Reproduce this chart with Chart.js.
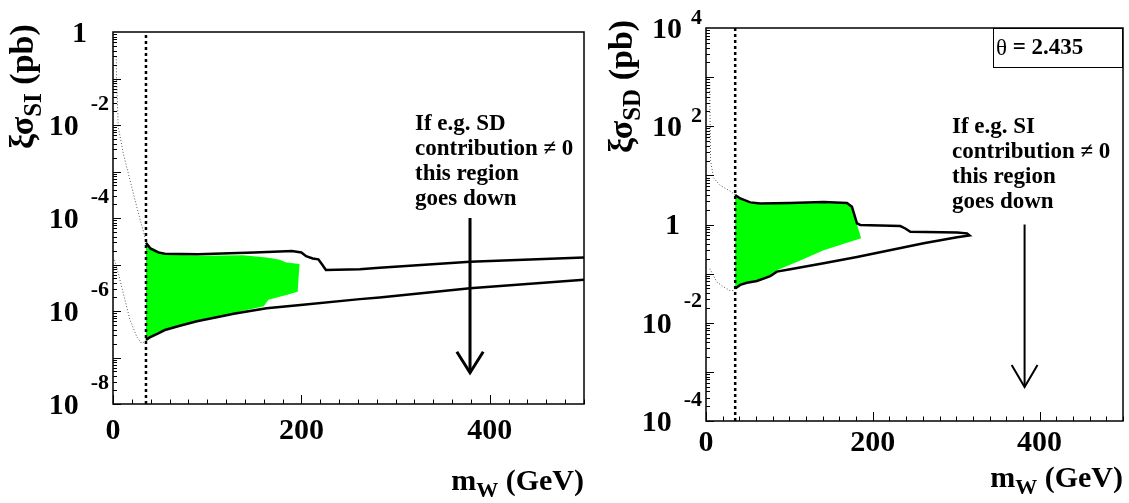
<!DOCTYPE html>
<html>
<head>
<meta charset="utf-8">
<script src="https://cdn.jsdelivr.net/npm/chart.js@4.4.1/dist/chart.umd.min.js"></script>
<style>
  html, body { margin: 0; padding: 0; background: #fff; }
  #wrap { position: relative; width: 1129px; height: 503px; }
  canvas { position: absolute; top: 0; }
  #siChart { left: 0; }
  #sdChart { left: 595px; }
</style>
</head>
<body>
<div id="wrap">
  <canvas id="siChart" width="595" height="503"></canvas>
  <canvas id="sdChart" width="534" height="503"></canvas>
</div>
<script>
// ---- shared ----
const cutMass = 35;             // vertical dotted line (GeV)
const xTickLabels = [0, 200, 400];

// ---- left panel: spin-independent ----
const siUpperX = [35, 40, 48, 55, 90, 150, 190, 200, 205, 212, 218, 222, 226, 262, 283, 379, 500];
const siUpperY = [2.95e-5, 2.19e-5, 1.82e-5, 1.70e-5, 1.66e-5, 1.82e-5, 1.95e-5, 1.82e-5, 1.51e-5,
                  1.35e-5, 1.29e-5, 1.0e-5, 7.6e-6, 7.9e-6, 8.5e-6, 1.15e-5, 1.41e-5];
const siLowerX = [35, 39, 48, 55, 71, 89, 114, 128, 163, 199, 262, 283, 379, 500];
const siLowerY = [2.4e-7, 2.7e-7, 3.3e-7, 3.9e-7, 4.8e-7, 6.0e-7, 7.6e-7, 8.7e-7, 1.15e-6, 1.35e-6,
                  1.8e-6, 1.95e-6, 3.1e-6, 4.7e-6];
const siGreenX = [35, 43, 54, 92, 138, 163, 177, 184, 198, 196, 184, 170, 165, 160, 128, 114, 89, 71, 55, 48, 39, 35];
const siGreenY = [2.6e-5, 2.24e-5, 1.66e-5, 1.55e-5, 1.58e-5, 1.41e-5, 1.26e-5, 1.10e-5, 1.02e-5, 2.6e-6,
                  2.2e-6, 1.86e-6, 1.74e-6, 1.26e-6, 9.1e-7, 7.9e-7, 6.3e-7, 5.0e-7, 4.1e-7, 3.5e-7, 2.8e-7, 2.5e-7];
const siDotUpX = [3.5, 3.8, 4.6, 5.6, 10.9, 18, 25.2, 35];
const siDotUpY = [0.3, 0.1, 0.035, 9.1e-3, 2.45e-3, 6.6e-4, 1.74e-4, 3.2e-5];
const siDotLowX = [1.5, 5.6, 10.9, 18, 25.2, 30.5, 35];
const siDotLowY = [1.26e-5, 6.5e-6, 2.4e-6, 6.5e-7, 2.8e-7, 2.0e-7, 2.3e-7];
const siArrowX = [379, 379];
const siArrowY = [1e-4, 4.7e-8];
const siHeadX = [365, 379, 393];
const siHeadY = [1.33e-7, 4.7e-8, 1.33e-7];
const siNote = ['If e.g. SD', 'contribution \u2260 0', 'this region', 'goes down'];

// ---- right panel: spin-dependent ----
const sdUpperX = [35, 41, 53, 65, 101, 141, 169, 175, 181, 185, 233, 239, 245, 301, 313, 316];
const sdUpperY = [3.98, 3.39, 2.82, 2.69, 2.75, 2.88, 2.75, 2.29, 1.05, 0.98, 0.93, 0.83, 0.71, 0.69, 0.66, 0.60];
const sdLowerX = [35, 41, 49, 61, 77, 85, 101, 141, 181, 261, 301, 316];
const sdLowerY = [0.050, 0.059, 0.065, 0.071, 0.089, 0.11, 0.123, 0.162, 0.219, 0.417, 0.55, 0.60];
const sdGreenX = [35, 41, 53, 65, 101, 141, 169, 175, 181, 186, 141, 113, 85, 77, 61, 49, 41, 35];
const sdGreenY = [3.8, 3.24, 2.69, 2.57, 2.63, 2.75, 2.63, 2.19, 1.0, 0.525, 0.30, 0.186, 0.117, 0.093,
                  0.074, 0.068, 0.062, 0.052];
const sdDotUpX = [4.5, 4.8, 5.5, 9, 16.8, 28.8, 35];
const sdDotUpY = [794, 200, 20, 8.9, 6.3, 4.8, 4.0];
const sdDotLowX = [4.5, 12.9, 20.8, 28.8, 35];
const sdDotLowY = [0.126, 0.068, 0.054, 0.045, 0.046];
const sdArrowX = [382, 382];
const sdArrowY = [1.0, 4.9e-4];
const sdHeadX = [366.5, 382, 397.5];
const sdHeadY = [1.38e-3, 4.9e-4, 1.38e-3];
const sdNote = ['If e.g. SI', 'contribution \u2260 0', 'this region', 'goes down'];
const thetaSymbol = '\u03b8';
const thetaValue = ' = 2.435';

const pts = (xs, ys) => xs.map((x, i) => ({ x: x, y: ys[i] }));

function lineSet(data, color, width, dash, order) {
    return {
        data: data,
        borderColor: color,
        borderWidth: width,
        borderDash: dash || [],
        pointRadius: 0,
        fill: false,
        tension: 0,
        order: order
    };
}

function greenSet(data) {
    return {
        data: data,
        borderWidth: 0,
        borderColor: 'rgba(0,0,0,0)',
        backgroundColor: '#00ff00',
        pointRadius: 0,
        fill: 'shape',
        tension: 0,
        order: 9
    };
}

const SERIF = '"Liberation Serif", "Times New Roman", serif';

// draws the ROOT-like frame, inside ticks, labels and notes
const rootAxes = {
    id: 'rootAxes',
    afterDraw(chart, args, o) {
        const ctx = chart.ctx, a = chart.chartArea;
        const sx = chart.scales.x, sy = chart.scales.y;
        ctx.save();
        ctx.strokeStyle = '#000';
        ctx.fillStyle = '#000';

        // ticks
        ctx.lineWidth = 1;
        ctx.beginPath();
        for (let v = 0; v <= 500; v += 20) {
            const px = Math.round(sx.getPixelForValue(v)) + 0.5;
            const len = v % 200 === 0 ? 9 : 4.5;
            ctx.moveTo(px, a.bottom);
            ctx.lineTo(px, a.bottom - len);
        }
        for (let e = o.minExp; e < o.maxExp; e++) {
            for (let m = 1; m < 10; m++) {
                const py = Math.round(sy.getPixelForValue(m * Math.pow(10, e))) + 0.5;
                ctx.moveTo(a.left, py);
                ctx.lineTo(a.left + (m === 1 ? 8 : 4), py);
            }
        }
        ctx.stroke();

        // frame
        ctx.lineWidth = 1.5;
        ctx.strokeRect(a.left, a.top, a.right - a.left, a.bottom - a.top);

        const big = 'bold 30px ' + SERIF;
        const sup = 'bold 22px ' + SERIF;

        // x tick labels
        ctx.font = big;
        ctx.textAlign = 'center';
        ctx.textBaseline = 'middle';
        xTickLabels.forEach(v => ctx.fillText(String(v), sx.getPixelForValue(v), a.bottom + o.xLabelGap));

        // y tick labels 10^n
        ctx.textAlign = 'right';
        o.yLabelExps.forEach(e => {
            const py = sy.getPixelForValue(Math.pow(10, e));
            if (e === 0) {
                ctx.font = big;
                ctx.fillText('1', a.left - 26, py + 2);
                return;
            }
            const s = String(e);
            ctx.font = sup;
            ctx.fillText(s, a.left - 4, py + (e < 0 ? -21 : -10));
            const w = ctx.measureText(s).width;
            ctx.font = big;
            ctx.fillText('10', a.left - 4 - w - (e < 0 ? 12 : 9), py + 2);
        });

        // y title (rotated)
        const tBig = 'bold 34px ' + SERIF;
        const tSub = 'bold 25px ' + SERIF;
        ctx.save();
        ctx.translate(o.yTitleX, o.yTitleY);
        ctx.rotate(-Math.PI / 2);
        ctx.textAlign = 'left';
        ctx.textBaseline = 'alphabetic';
        ctx.font = tBig;
        ctx.fillText('\u03be\u03c3', 0, 0);
        let w = ctx.measureText('\u03be\u03c3').width;
        ctx.font = tSub;
        ctx.fillText(o.ySub, w, 8);
        w += ctx.measureText(o.ySub).width;
        ctx.font = tBig;
        ctx.fillText(' (pb)', w, 0);
        ctx.restore();

        // x title, right aligned to the frame
        ctx.textAlign = 'left';
        ctx.textBaseline = 'alphabetic';
        ctx.font = big;
        const wm = ctx.measureText('m').width;
        const wg = ctx.measureText(' (GeV)').width;
        ctx.font = sup;
        const ww = ctx.measureText('W').width;
        let tx = a.right - wm - ww - wg;
        ctx.font = big;
        ctx.fillText('m', tx, o.xTitleY);
        ctx.font = sup;
        ctx.fillText('W', tx + wm, o.xTitleY + 7);
        ctx.font = big;
        ctx.fillText(' (GeV)', tx + wm + ww, o.xTitleY);

        // note text
        ctx.font = 'bold 23px ' + SERIF;
        ctx.textBaseline = 'middle';
        o.note.forEach((t, i) => ctx.fillText(t, o.noteX, o.noteY + i * 25));

        // theta box
        if (o.theta) {
            const b = o.theta;
            ctx.lineWidth = 1;
            ctx.strokeRect(b.x + 0.5, b.y + 0.5, b.w, b.h);
            const ty = b.y + b.h / 2 + 1;
            ctx.font = '23px ' + SERIF;
            ctx.fillText(thetaSymbol, b.x + 3, ty);
            const wt = ctx.measureText(thetaSymbol).width;
            ctx.font = 'bold 23px ' + SERIF;
            ctx.fillText(thetaValue, b.x + 3 + wt, ty);
        }
        ctx.restore();
    }
};

function drawPanel(canvasId, sets, yMin, yMax, padding, axisOpts) {
    const ctx = document.getElementById(canvasId);
    return new Chart(ctx, {
        type: 'line',
        data: { datasets: sets },
        options: {
            responsive: false,
            animation: false,
            events: [],
            layout: { padding: padding },
            scales: {
                x: { type: 'linear', min: 0, max: 500, display: false },
                y: { type: 'logarithmic', min: yMin, max: yMax, display: false }
            },
            plugins: {
                legend: { display: false },
                tooltip: { enabled: false },
                rootAxes: axisOpts
            }
        },
        plugins: [rootAxes]
    });
}

// left: SI
drawPanel('siChart', [
    greenSet(pts(siGreenX, siGreenY)),
    lineSet(pts(siDotUpX, siDotUpY), '#555', 1, [1, 2], 4),
    lineSet(pts(siDotLowX, siDotLowY), '#555', 1, [1, 2], 4),
    lineSet(pts(siUpperX, siUpperY), '#000', 2.5, null, 2),
    lineSet(pts(siLowerX, siLowerY), '#000', 2.5, null, 2),
    lineSet(pts([cutMass, cutMass], [1e-8, 1]), '#000', 2.5, [3, 3], 1),
    lineSet(pts(siArrowX, siArrowY), '#000', 3, null, 1),
    lineSet(pts(siHeadX, siHeadY), '#000', 3, null, 1)
], 1e-8, 1, { left: 113, right: 11, top: 32, bottom: 99 }, {
    minExp: -8, maxExp: 0,
    yLabelExps: [0, -2, -4, -6, -8],
    xLabelGap: 27,
    yTitleX: 33, yTitleY: 149, ySub: 'SI',
    xTitleY: 490,
    note: siNote, noteX: 415, noteY: 124
});

// right: SD
drawPanel('sdChart', [
    greenSet(pts(sdGreenX, sdGreenY)),
    lineSet(pts(sdDotUpX, sdDotUpY), '#555', 1, [1, 2], 4),
    lineSet(pts(sdDotLowX, sdDotLowY), '#555', 1, [1, 2], 4),
    lineSet(pts(sdUpperX.concat(sdLowerX.slice(0, -1).reverse()),
                sdUpperY.concat(sdLowerY.slice(0, -1).reverse())), '#000', 2.5, null, 2),
    lineSet(pts([cutMass, cutMass], [1e-4, 1e4]), '#000', 2.5, [3, 3], 1),
    lineSet(pts(sdArrowX, sdArrowY), '#000', 2, null, 1),
    lineSet(pts(sdHeadX, sdHeadY), '#000', 2, null, 1)
], 1e-4, 1e4, { left: 111, right: 6, top: 28, bottom: 82 }, {
    minExp: -4, maxExp: 4,
    yLabelExps: [4, 2, 0, -2, -4],
    xLabelGap: 22,
    yTitleX: 37, yTitleY: 153, ySub: 'SD',
    xTitleY: 487,
    note: sdNote, noteX: 357, noteY: 127,
    theta: { x: 398, y: 28, w: 129, h: 39 }
});
</script>
</body>
</html>
